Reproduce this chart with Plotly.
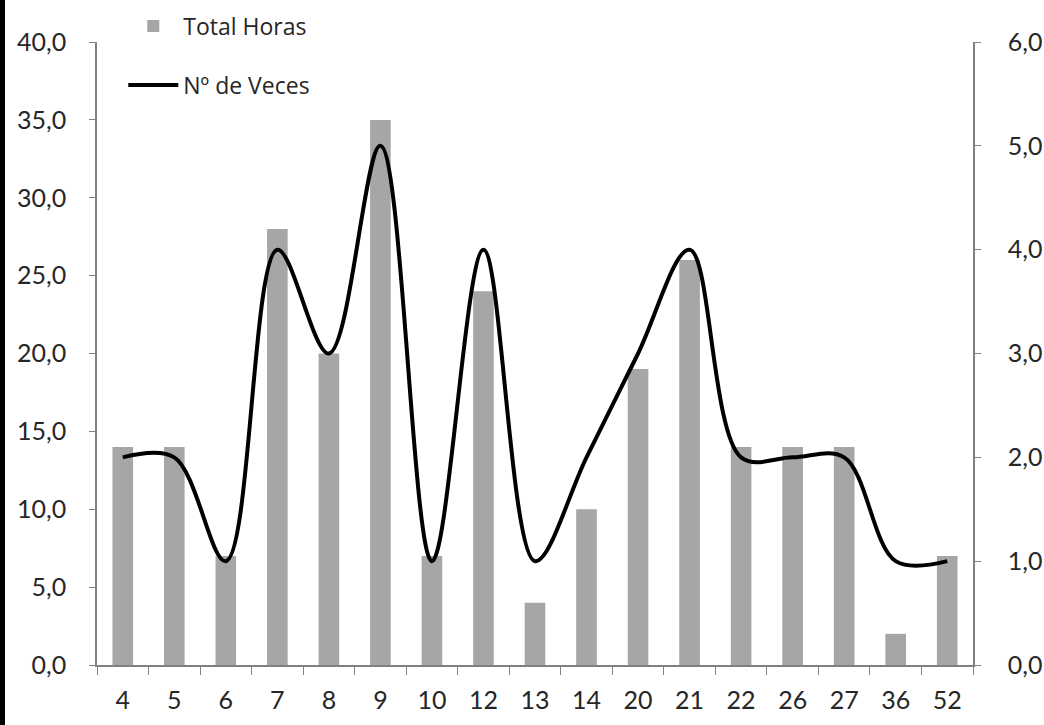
import plotly.graph_objects as go

categories = ["4", "5", "6", "7", "8", "9", "10", "12", "13", "14", "20", "21", "22", "26", "27", "36", "52"]
total_horas = [14, 14, 7, 28, 20, 35, 7, 24, 4, 10, 19, 26, 14, 14, 14, 2, 7]
num_veces = [2, 2, 1, 4, 3, 5, 1, 4, 1, 2, 3, 4, 2, 2, 2, 1, 1]

left_ticks = [0, 5, 10, 15, 20, 25, 30, 35, 40]
right_ticks = [0, 1, 2, 3, 4, 5, 6]

FONT = "Lato, 'Open Sans', sans-serif"
TXT = "#262626"

fig = go.Figure()
fig.add_trace(go.Bar(
    x=categories, y=total_horas, name="Total Horas",
    marker=dict(color="#a6a6a6", line=dict(width=0)),
    width=0.4, legendgroup="a",
))
fig.add_trace(go.Scatter(
    x=categories, y=num_veces, name="Nº de Veces", yaxis="y2",
    mode="lines", line=dict(color="black", width=4, shape="spline", smoothing=1.0),
    legendgroup="b",
))

fig.update_layout(
    width=1044, height=725,
    margin=dict(l=97, r=71, t=42, b=60, autoexpand=False),
    paper_bgcolor="white", plot_bgcolor="white",
    separators=",.",
    font=dict(family=FONT, size=25, color=TXT),
    showlegend=True,
    legend=dict(x=0.03, y=1.06, xanchor="left", yanchor="top",
                bgcolor="rgba(0,0,0,0)", traceorder="grouped", tracegroupgap=26,
                itemwidth=50,
                font=dict(family="'Open Sans', sans-serif", size=23, color=TXT)),
    bargap=0.6,
    xaxis=dict(type="category", showgrid=False, showline=True, linecolor="#808080",
               linewidth=1.5, ticks="outside", tickson="boundaries", ticklen=8,
               tickcolor="#808080", tickfont=dict(size=25, color=TXT),
               ticklabelstandoff=12, automargin=False),
    yaxis=dict(range=[0, 40], tickvals=left_ticks, tickformat=".1f", showgrid=False,
               showline=True, linecolor="#808080", linewidth=1.5, ticks="outside",
               ticklen=6, tickcolor="#808080", zeroline=False, automargin=False,
               ticklabelstandoff=18, tickfont=dict(size=25, color=TXT)),
    yaxis2=dict(range=[0, 6], tickvals=right_ticks, tickformat=".1f", overlaying="y",
                side="right", showgrid=False, showline=True, linecolor="#808080",
                linewidth=1.5, ticks="outside", ticklen=6, tickcolor="#808080",
                zeroline=False, automargin=False, ticklabelstandoff=22,
                tickfont=dict(size=25, color=TXT)),
    shapes=[
        dict(type="rect", xref="paper", yref="paper",
             x0=-97/876, x1=-92/876, y0=-60/623, y1=1 + 42/623,
             fillcolor="black", line=dict(width=0), layer="above"),
    ],
)

fig.write_html("out.html", config={"displayModeBar": False},
               post_script="document.body.style.margin='0';")
